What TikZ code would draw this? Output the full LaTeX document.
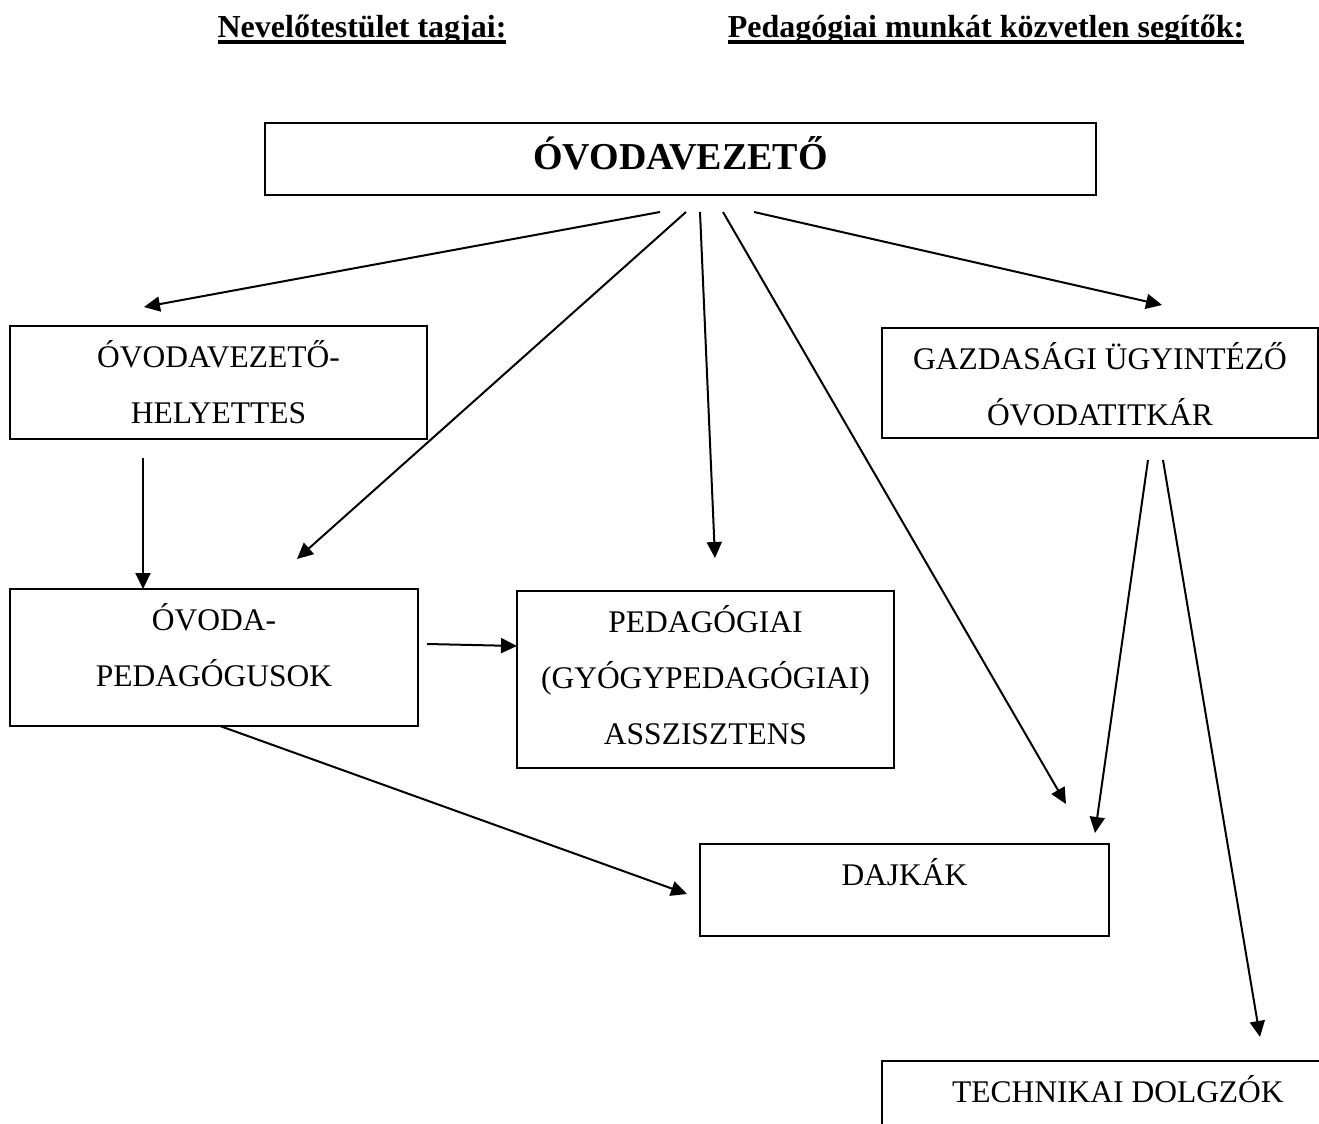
\documentclass[tikz,border=0pt]{standalone}
\usepackage{fontspec}
\setmainfont{Liberation Serif}
\usetikzlibrary{arrows.meta}
\newdimen\unitpx \unitpx=0.5pt
\newcommand{\bx}[4][20.5pt]{\parbox[t][#3\unitpx][t]{#2\unitpx}{\centering\rule{0pt}{#1}#4}}
\newcommand{\ulhead}[1]{\sbox0{#1}\rlap{\rule[-3pt]{\wd0}{1.8pt}}\usebox0}

\begin{document}
\begin{tikzpicture}[x=0.5pt, y=-0.5pt,
  box/.style={draw, line width=1pt, inner sep=0pt, outer sep=0pt, anchor=north west,
              font=\fontsize{15.75}{28}\selectfont},
  head/.style={anchor=base, inner sep=0pt, font=\bfseries\fontsize{16}{19}\selectfont},
  arr/.style={-{Triangle[length=8pt, width=7.5pt]}, line width=1pt},
]
\useasboundingbox (0,0) rectangle (1319,1124);
\node[head] (nev) at (362,38) {\ulhead{Nevelőtestület tagjai:}};
\node[head] (seg) at (986,38) {\ulhead{Pedagógiai munkát közvetlen segítők:}};
\node[box, font=\bfseries\fontsize{19}{23}\selectfont] (vez) at (265,123) {\bx[23pt]{831}{72}{ÓVODAVEZETŐ}};
\node[box] (helyettes) at (10,326) {\bx{417}{113}{ÓVODAVEZETŐ-\\HELYETTES}};
\node[box] (gazd) at (882,328) {\bx{436}{110}{GAZDASÁGI ÜGYINTÉZŐ\\ÓVODATITKÁR}};
\node[box] (pedagogusok) at (10,589) {\bx{408}{137}{ÓVODA-\\PEDAGÓGUSOK}};
\node[box] (assz) at (517,591) {\bx{377}{177}{PEDAGÓGIAI\\(GYÓGYPEDAGÓGIAI)\\ASSZISZTENS}};
\node[box] (dajkak) at (700,844) {\bx{409}{92}{DAJKÁK}};
\node[box] (technikai) at (882,1061) {\bx{472}{120}{TECHNIKAI DOLGZÓK}};
\draw[arr] ([shift={(395,17)}]vez.south west) -- ([shift={(134,-19)}]helyettes.north west);
\draw[arr] ([shift={(421,17)}]vez.south west) -- ([shift={(287,-30)}]pedagogusok.north west);
\draw[arr] ([shift={(435,17)}]vez.south west) -- ([shift={(198,-33)}]assz.north west);
\draw[arr] ([shift={(458,17)}]vez.south west) -- ([shift={(366,-40)}]dajkak.north west);
\draw[arr] ([shift={(489,17)}]vez.south west) -- ([shift={(280,-23)}]gazd.north west);
\draw[arr] ([shift={(133,19)}]helyettes.south west) -- ([shift={(133,0)}]pedagogusok.north west);
\draw[arr] ([shift={(9,55)}]pedagogusok.north east) -- ([shift={(0,55)}]assz.north west);
\draw[arr] ([shift={(210,0)}]pedagogusok.south west) -- ([shift={(-13,50)}]dajkak.north west);
\draw[arr] ([shift={(266,22)}]gazd.south west) -- ([shift={(395,-11)}]dajkak.north west);
\draw[arr] ([shift={(281,22)}]gazd.south west) -- ([shift={(378,-24)}]technikai.north west);
\end{tikzpicture}
\end{document}
